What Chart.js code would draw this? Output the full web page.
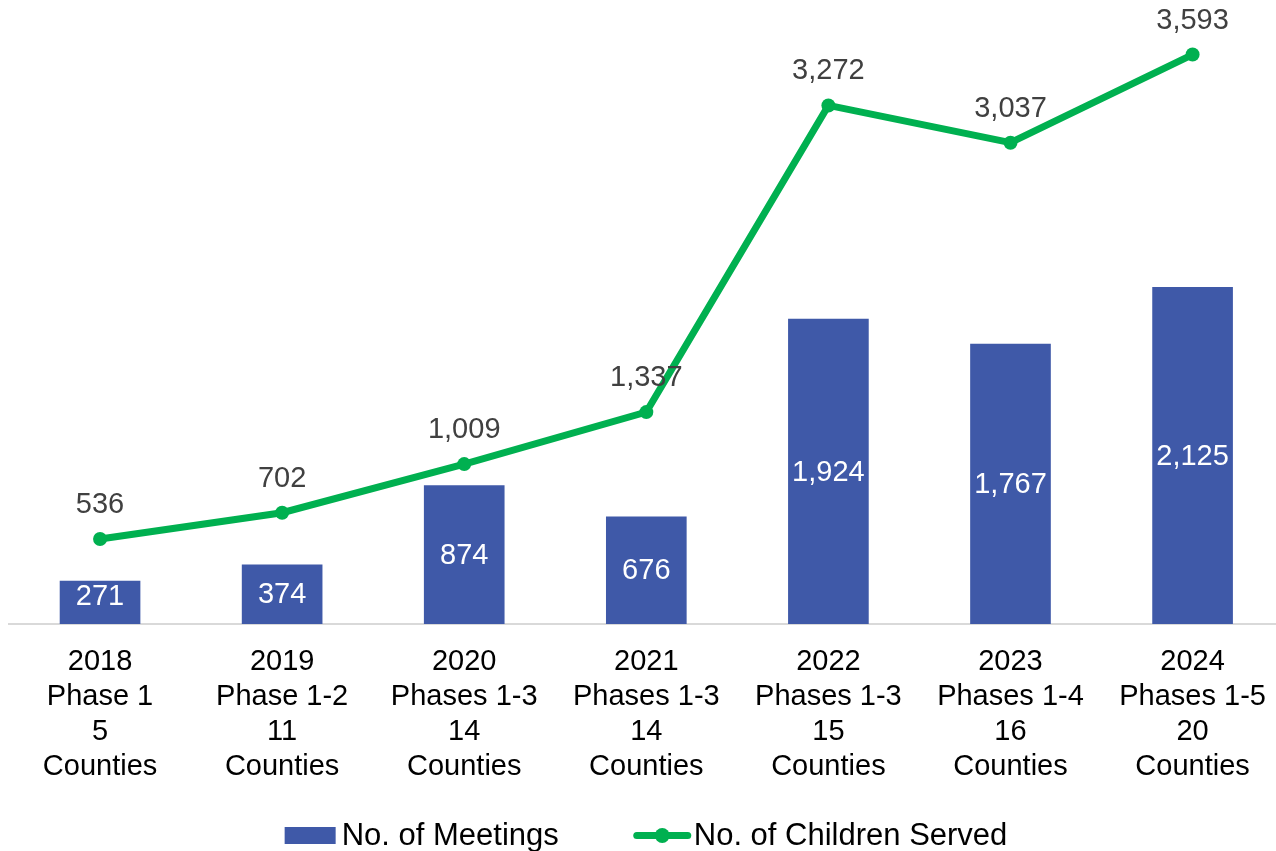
<!DOCTYPE html>
<html>
<head>
<meta charset="utf-8">
<script src="https://cdn.jsdelivr.net/npm/chart.js@4"></script>
<style>
  html, body { margin: 0; padding: 0; background: #fff; overflow: hidden; }
  #wrap { width: 1287px; height: 851px; }
</style>
</head>
<body>
<div id="wrap"><canvas id="c" width="1287" height="851"></canvas></div>
<script>
const categories = [
  ['2018', 'Phase 1', '5', 'Counties'],
  ['2019', 'Phase 1-2', '11', 'Counties'],
  ['2020', 'Phases 1-3', '14', 'Counties'],
  ['2021', 'Phases 1-3', '14', 'Counties'],
  ['2022', 'Phases 1-3', '15', 'Counties'],
  ['2023', 'Phases 1-4', '16', 'Counties'],
  ['2024', 'Phases 1-5', '20', 'Counties']
];
const meetings = [271, 374, 874, 676, 1924, 1767, 2125];
const children = [536, 702, 1009, 1337, 3272, 3037, 3593];
const seriesNames = ['No. of Meetings', 'No. of Children Served'];

const FONT = '"Liberation Sans", Arial, sans-serif';
const BLUE = '#3F59A8';
const GREEN = '#00B050';
const fmt = v => v.toLocaleString('en-US');

const labelPlugin = {
  id: 'valueLabels',
  afterDatasetsDraw(chart) {
    const ctx = chart.ctx;
    ctx.save();
    ctx.font = '29px ' + FONT;
    ctx.textAlign = 'center';
    ctx.textBaseline = 'middle';
    const barMeta = chart.getDatasetMeta(0);
    barMeta.data.forEach((el, i) => {
      const cy = Math.min((el.y + el.base) / 2, el.base - 28);
      ctx.fillStyle = '#ffffff';
      ctx.fillText(fmt(meetings[i]), el.x, cy + 1);
    });
    const lineMeta = chart.getDatasetMeta(1);
    lineMeta.data.forEach((el, i) => {
      ctx.fillStyle = '#404040';
      ctx.fillText(fmt(children[i]), el.x, el.y - 34);
    });
    ctx.restore();
  }
};

const legendPlugin = {
  id: 'customLegend',
  afterDraw(chart) {
    const ctx = chart.ctx;
    ctx.save();
    ctx.font = '31px ' + FONT;
    ctx.textBaseline = 'middle';
    ctx.textAlign = 'left';
    const w1 = ctx.measureText(seriesNames[0]).width;
    const w2 = ctx.measureText(seriesNames[1]).width;
    const total = 51 + 6 + w1 + 75 + 57 + 3 + w2;
    let x = 646 - total / 2;
    const cy = 835.5;
    ctx.fillStyle = BLUE;
    ctx.fillRect(x, cy - 8.5, 51, 17);
    x += 57;
    ctx.fillStyle = '#000';
    ctx.fillText(seriesNames[0], x, cy + 1);
    x += w1 + 75;
    ctx.strokeStyle = GREEN;
    ctx.lineWidth = 7;
    ctx.lineCap = 'round';
    ctx.beginPath();
    ctx.moveTo(x + 3, cy);
    ctx.lineTo(x + 54, cy);
    ctx.stroke();
    ctx.fillStyle = GREEN;
    ctx.beginPath();
    ctx.arc(x + 28.5, cy, 7.5, 0, Math.PI * 2);
    ctx.fill();
    x += 60;
    ctx.fillStyle = '#000';
    ctx.fillText(seriesNames[1], x, cy + 1);
    ctx.restore();
  }
};

new Chart(document.getElementById('c'), {
  data: {
    labels: categories,
    datasets: [
      {
        type: 'bar',
        label: seriesNames[0],
        data: meetings,
        backgroundColor: BLUE,
        barThickness: 80,
        order: 1
      },
      {
        type: 'line',
        label: seriesNames[1],
        data: children,
        borderColor: GREEN,
        backgroundColor: GREEN,
        borderWidth: 7,
        pointRadius: 7,
        pointBackgroundColor: GREEN,
        pointBorderWidth: 0,
        tension: 0,
        clip: false,
        order: 0
      }
    ]
  },
  options: {
    responsive: false,
    animation: false,
    layout: { autoPadding: false, padding: { top: 1, left: 9, right: 1, bottom: 0 } },
    plugins: {
      legend: { display: false },
      tooltip: { enabled: false }
    },
    scales: {
      x: {
        grid: { display: false, drawTicks: false },
        border: { display: true, color: '#D9D9D9', width: 2 },
        ticks: {
          color: '#000',
          font: { family: FONT, size: 29, lineHeight: 1.2 },
          padding: 21,
          maxRotation: 0,
          autoSkip: false
        },
        afterFit(scale) { scale.height = 227; }
      },
      y: {
        display: false,
        min: 0,
        max: 3931
      }
    }
  },
  plugins: [labelPlugin, legendPlugin]
});
</script>
</body>
</html>
